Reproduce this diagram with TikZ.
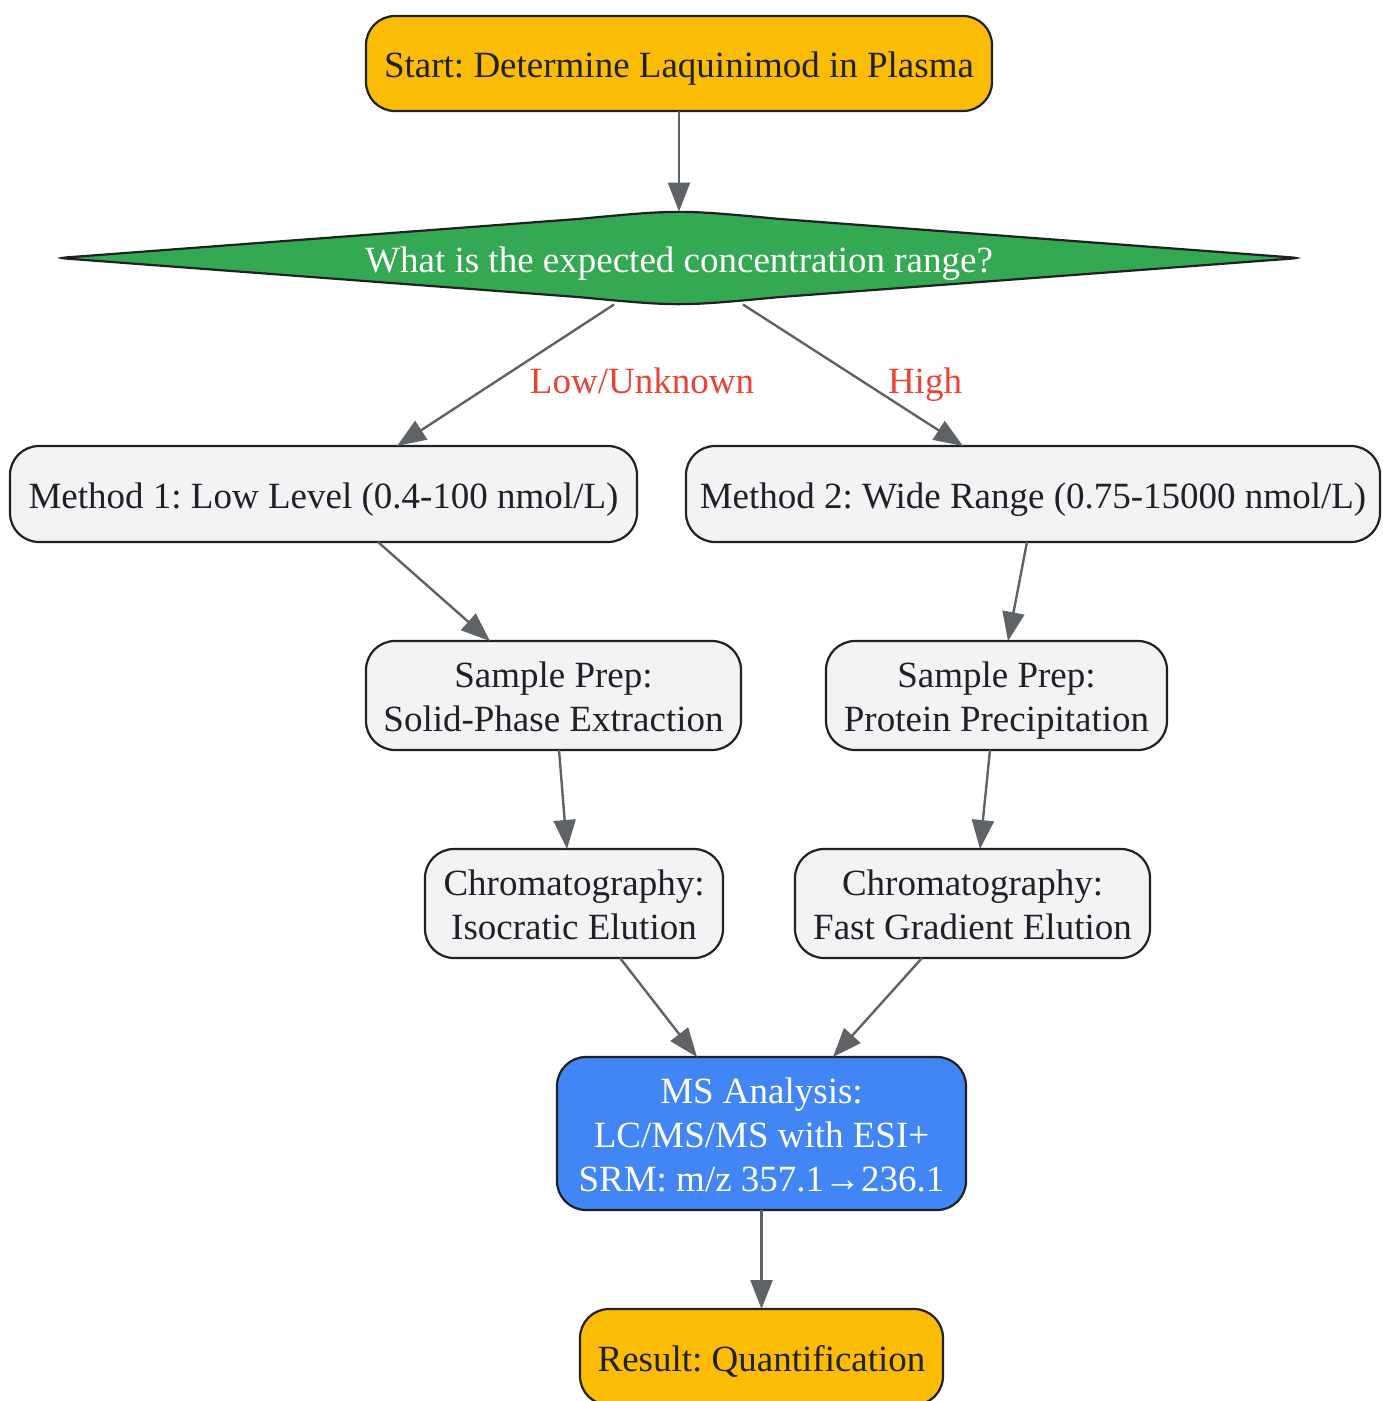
\documentclass[tikz,border=0pt]{standalone}
\usepackage{fontspec}
\setmainfont{Liberation Serif}
\usetikzlibrary{arrows.meta,backgrounds}
\definecolor{cyellow}{HTML}{FBBC05}
\definecolor{cgreen}{HTML}{34A853}
\definecolor{cblue}{HTML}{4285F4}
\definecolor{cred}{HTML}{EA4335}
\definecolor{cgrey}{HTML}{F1F3F4}
\definecolor{ctext}{HTML}{202124}
\definecolor{cedge}{HTML}{5F6368}
\newcommand\tl[1]{\rule{0pt}{28pt}\smash{#1}}
\tikzset{
  base/.style={draw=ctext, line width=2.2pt, rounded corners=29pt, align=center,
    inner sep=0pt, outer sep=0pt, font=\fontsize{37}{44}\selectfont\frenchspacing},
  term/.style={base, fill=cyellow, text=ctext},
  procbox/.style={base, fill=cgrey, text=ctext},
  msbox/.style={base, fill=cblue, text=white},
  conn/.style={draw=cedge, line width=2.4pt, -{Triangle[length=29pt,width=22pt]}},
  elabel/.style={text=cred, inner sep=0pt, font=\fontsize{37}{44}\selectfont\frenchspacing},
}
\begin{document}
\begin{tikzpicture}[x=1pt,y=-1pt]
\useasboundingbox (0,0) rectangle (1383,1401);
\begin{scope}[on background layer]
\fill[white] (0,0) rectangle (1383,1401);
\end{scope}

\node[term, minimum width=626pt, minimum height=95pt] (start) at (679,63.5) {\tl{Start: Determine Laquinimod in Plasma}};

\node[draw=none, inner sep=0pt, outer sep=0pt, minimum width=1237pt, minimum height=93pt, text=white,
  font=\fontsize{37}{44}\selectfont] (dec) at (679,258) {\tl{What is the expected concentration range?}};
\begin{scope}[on background layer]
\filldraw[fill=cgreen, draw=ctext, line width=2.2pt]
  ([xshift=6pt,yshift=0.6pt]dec.west) -- ([xshift=-100pt,yshift=-7.4pt]dec.north)
  .. controls ([yshift=2pt]dec.north) .. ([xshift=100pt,yshift=-7.4pt]dec.north)
  -- ([xshift=-6pt,yshift=0.6pt]dec.east)
  .. controls (dec.east) .. ([xshift=-6pt,yshift=-0.6pt]dec.east)
  -- ([xshift=100pt,yshift=7.4pt]dec.south)
  .. controls ([yshift=-2pt]dec.south) .. ([xshift=-100pt,yshift=7.4pt]dec.south)
  -- ([xshift=6pt,yshift=-0.6pt]dec.west)
  .. controls (dec.west) .. cycle;
\end{scope}

\node[procbox, minimum width=627pt, minimum height=96pt] (m1) at (323.5,494) {\tl{Method 1: Low Level (0.4-100 nmol/L)}};
\node[procbox, minimum width=694pt, minimum height=96pt] (m2) at (1033,494) {\tl{Method 2: Wide Range (0.75-15000 nmol/L)}};

\node[procbox, minimum width=375pt, minimum height=109pt] (sp1) at (553.5,695.5) {\tl{Sample Prep:}\\\tl{Solid-Phase Extraction}};
\node[procbox, minimum width=341pt, minimum height=109pt] (sp2) at (996.5,695.5) {\tl{Sample Prep:}\\\tl{Protein Precipitation}};

\node[procbox, minimum width=298pt, minimum height=109pt] (c1) at (574,903.5) {\tl{Chromatography:}\\\tl{Isocratic Elution}};
\node[procbox, minimum width=355pt, minimum height=109pt] (c2) at (972.5,903.5) {\tl{Chromatography:}\\\tl{Fast Gradient Elution}};

\node[msbox, minimum width=409pt, minimum height=153pt] (ms) at (761.5,1133.5) {\tl{MS Analysis:}\\\tl{LC/MS/MS with ESI+}\\\tl{SRM: m/z 357.1→236.1}};

\node[term, minimum width=363pt, minimum height=96pt] (res) at (761.5,1357) {\tl{Result: Quantification}};

\draw[conn] (start.south) -- (dec.north);
\draw[conn] ([xshift=-65pt]dec.south) -- ([xshift=73.5pt]m1.north)
  node[elabel, pos=0.5, xshift=136.5pt, yshift=-4pt] (lbl1) {\tl{Low/Unknown}};
\draw[conn] ([xshift=64pt]dec.south) -- ([xshift=-70pt]m2.north)
  node[elabel, pos=0.5, xshift=72pt, yshift=-4pt] (lbl2) {\tl{High}};
\draw[conn] ([xshift=54.5pt]m1.south) -- ([xshift=-63.5pt]sp1.north);
\draw[conn] ([xshift=-6pt]m2.south) -- ([xshift=11.5pt]sp2.north);
\draw[conn] ([xshift=5.5pt]sp1.south) -- ([xshift=-7pt]c1.north);
\draw[conn] ([xshift=-6.5pt]sp2.south) -- ([xshift=7.5pt]c2.north);
\draw[conn] ([xshift=46pt]c1.south) -- ([xshift=-64.5pt]ms.north);
\draw[conn] ([xshift=-50.5pt]c2.south) -- ([xshift=71.5pt]ms.north);
\draw[conn] (ms.south) -- (res.north);
\end{tikzpicture}
\end{document}
